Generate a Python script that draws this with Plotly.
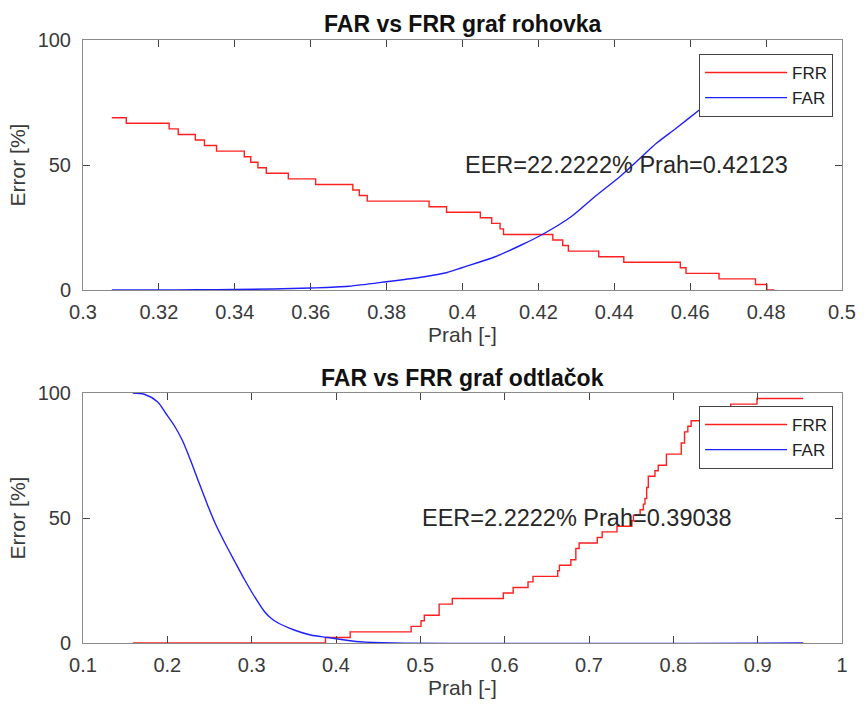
import plotly.graph_objects as go

# ---------------- data ----------------
# Top panel: "rohovka"
top_frr_x = [0.3076, 0.3114, 0.3227, 0.3251, 0.3296, 0.3320, 0.3352, 0.3425, 0.3442, 0.3461,
             0.3483, 0.3541, 0.3613, 0.3711, 0.3728, 0.3749, 0.3912, 0.3958, 0.4047, 0.4077,
             0.4099, 0.4108, 0.4238, 0.4264, 0.4279, 0.4359, 0.4425, 0.4574, 0.4589, 0.4676,
             0.4772, 0.4802, 0.4822]
top_frr_y = [68.89, 66.67, 64.44, 62.22, 60.00, 57.78, 55.56, 53.33, 51.11, 48.89,
             46.67, 44.44, 42.22, 40.00, 37.78, 35.56, 33.33, 31.11, 28.89, 26.67,
             24.44, 22.22, 20.00, 17.78, 15.56, 13.33, 11.11, 8.89, 6.67, 4.44,
             2.22, 0.0, 0.0]
top_far_x = [0.3076, 0.32, 0.33, 0.34, 0.35, 0.36, 0.37, 0.38, 0.39, 0.3957, 0.40,
             0.4086, 0.4155, 0.4208, 0.4286, 0.4346, 0.4416, 0.4468, 0.4511, 0.4563,
             0.4624, 0.47, 0.4822]
top_far_y = [0.0, 0.05, 0.1, 0.2, 0.4, 0.8, 1.5, 3.3, 5.3, 6.9, 9.0,
             13.3, 18.0, 22.0, 29.3, 37.0, 45.5, 52.7, 58.7, 64.7,
             72.0, 81.0, 92.0]

# Bottom panel: "odtlačok"
bot_frr_x = [0.159, 0.3875, 0.4168, 0.4891, 0.5008, 0.5047, 0.5223, 0.5379, 0.5984, 0.6101,
             0.6277, 0.6336, 0.6629, 0.6649, 0.6785, 0.6844, 0.6883, 0.7098, 0.7156, 0.7332,
             0.7508, 0.7527, 0.7606, 0.7645, 0.7664, 0.7684, 0.7703, 0.7782, 0.7821, 0.7918,
             0.8094, 0.8133, 0.8172, 0.8211, 0.835, 0.85, 0.868, 0.8992, 0.954]
bot_frr_y = [0.0, 2.22, 4.44, 6.67, 8.89, 11.11, 15.56, 17.78, 20.00, 22.22,
             24.44, 26.67, 28.89, 31.11, 33.33, 37.78, 40.00, 42.22, 44.44, 46.67,
             48.89, 51.11, 53.33, 55.56, 57.78, 62.22, 66.67, 68.89, 71.11, 75.56,
             80.00, 84.44, 86.67, 88.89, 91.11, 93.33, 95.56, 97.78, 97.78]
bot_far_x = [0.159, 0.1727, 0.1883, 0.1981, 0.2078, 0.2176, 0.2274, 0.2371, 0.2469, 0.2567,
             0.2684, 0.2801, 0.2918, 0.3035, 0.3153, 0.3230, 0.3309, 0.3504, 0.3699, 0.3904,
             0.4285, 0.4676, 0.954]
bot_far_y = [100.0, 99.5, 96.5, 91.9, 87.2, 81.2, 73.2, 64.5, 55.9, 47.9,
             39.9, 32.5, 25.2, 18.5, 12.5, 9.9, 8.1, 5.2, 3.2, 2.2,
             0.5, 0.0, 0.0]

top_xticks = [0.3, 0.32, 0.34, 0.36, 0.38, 0.4, 0.42, 0.44, 0.46, 0.48, 0.5]
top_xticklabels = ["0.3", "0.32", "0.34", "0.36", "0.38", "0.4", "0.42", "0.44", "0.46", "0.48", "0.5"]
bot_xticks = [0.1, 0.2, 0.3, 0.4, 0.5, 0.6, 0.7, 0.8, 0.9, 1.0]
bot_xticklabels = ["0.1", "0.2", "0.3", "0.4", "0.5", "0.6", "0.7", "0.8", "0.9", "1"]
yticks = [0, 50, 100]
yticklabels = ["0", "50", "100"]

titles = ["FAR vs FRR graf rohovka", "FAR vs FRR graf odtlačok"]
eer_texts = ["EER=22.2222% Prah=0.42123", "EER=2.2222% Prah=0.39038"]
eer_pos = [(0.40, 50), (0.50, 50)]

# ---------------- style ----------------
FONT = "Liberation Sans, Arial, Helvetica, sans-serif"
TXT = "#3a3a3a"
AXC = "#8a8a8a"
RED = "#ff2020"
BLUE = "#2020ff"

fig = go.Figure()
fig.add_trace(go.Scatter(x=top_frr_x, y=top_frr_y, mode="lines", line=dict(color=RED, width=1.4, shape="hv"),
                         name="FRR", xaxis="x", yaxis="y", legend="legend"))
fig.add_trace(go.Scatter(x=top_far_x, y=top_far_y, mode="lines", line=dict(color=BLUE, width=1.4, shape="spline", smoothing=0.8),
                         name="FAR", xaxis="x", yaxis="y", legend="legend"))
fig.add_trace(go.Scatter(x=bot_frr_x, y=bot_frr_y, mode="lines", line=dict(color=RED, width=1.4, shape="hv"),
                         name="FRR", xaxis="x2", yaxis="y2", legend="legend2"))
fig.add_trace(go.Scatter(x=bot_far_x, y=bot_far_y, mode="lines", line=dict(color=BLUE, width=1.4, shape="spline", smoothing=0.8),
                         name="FAR", xaxis="x2", yaxis="y2", legend="legend2"))

W, H = 868, 709
ML, MR, MT, MB = 83, 17, 40, 66
ph = H - MT - MB  # 603


def py(pix):
    return (H - MB - pix) / ph


axis_common = dict(showline=True, mirror="ticks", ticks="inside", ticklen=7, tickwidth=1,
                   linecolor=AXC, linewidth=1, tickcolor="#444444", showgrid=False, zeroline=False,
                   tickfont=dict(family=FONT, size=20, color=TXT),
                   title_font=dict(family=FONT, size=21, color=TXT))

legend_common = dict(bgcolor="white", bordercolor="#444444", borderwidth=1,
                     font=dict(family=FONT, size=17, color="#222222"),
                     xanchor="right", yanchor="top", itemwidth=82, tracegroupgap=0,
                     xref="paper", yref="paper")

fig.update_layout(
    width=W, height=H,
    margin=dict(l=ML, r=MR, t=MT, b=MB),
    paper_bgcolor="white", plot_bgcolor="white",
    showlegend=True,
    xaxis=dict(domain=[0, 1], range=[0.3, 0.5], anchor="y", tickvals=top_xticks, ticktext=top_xticklabels,
               ticklabelstandoff=4, title=dict(text="Prah [-]", standoff=4), **axis_common),
    yaxis=dict(domain=[py(290), 1], range=[0, 100], anchor="x", tickvals=yticks, ticktext=yticklabels,
               ticklabelstandoff=7, title=dict(text="Error [%]", standoff=6), **axis_common),
    xaxis2=dict(domain=[0, 1], range=[0.1, 1.0], anchor="y2", tickvals=bot_xticks, ticktext=bot_xticklabels,
                ticklabelstandoff=4, title=dict(text="Prah [-]", standoff=5), **axis_common),
    yaxis2=dict(domain=[0, py(393)], range=[0, 100], anchor="x2", tickvals=yticks, ticktext=yticklabels,
                ticklabelstandoff=7, title=dict(text="Error [%]", standoff=6), **axis_common),
    legend=dict(x=(842 - ML) / 768, y=py(54), **legend_common),
    legend2=dict(x=(842 - ML) / 768, y=py(406), **legend_common),
)

annotations = []
for t, yp in zip(titles, [24, 378]):
    annotations.append(dict(text="<b>" + t + "</b>", xref="paper", yref="paper", x=0.5, y=py(yp),
                            xanchor="center", yanchor="middle", showarrow=False,
                            font=dict(family=FONT, size=23, color="#111111")))
for t, (ex, ey), xr, yr in zip(eer_texts, eer_pos, ["x", "x2"], ["y", "y2"]):
    annotations.append(dict(text=t, xref=xr, yref=yr, x=ex, y=ey, xanchor="left", yanchor="middle",
                            showarrow=False, font=dict(family=FONT, size=23.5, color="#262626")))
fig.update_layout(annotations=annotations)

fig.write_html("out.html")
